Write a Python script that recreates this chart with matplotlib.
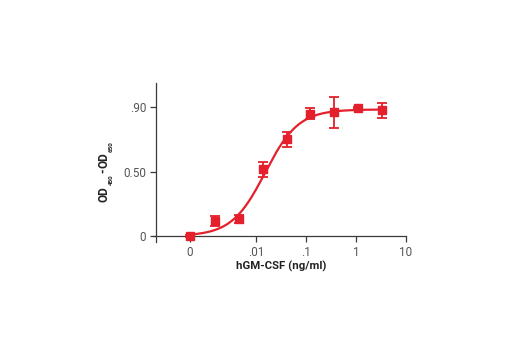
import numpy as np
import matplotlib
matplotlib.use("Agg")
import matplotlib.pyplot as plt

# ---- data ----
conc = [0.0, 0.00152, 0.00457, 0.0137, 0.0412, 0.123, 0.370, 1.11, 3.33]   # ng/ml
od = [0.0, 0.105, 0.119, 0.465, 0.675, 0.856, 0.865, 0.895, 0.879]
err = [0.006, 0.035, 0.030, 0.050, 0.054, 0.038, 0.110, 0.008, 0.052]

# 4PL fit parameters of the drawn curve
fit_bottom = 0.0
fit_top = 0.885
fit_ec50 = 0.0152
fit_hill = 1.3

x_ticks = [0.00048, 0.01, 0.1, 1, 10]
x_ticklabels = ["0", ".01", ".1", "1", "10"]
y_ticks = [0.0, 0.45, 0.90]
y_ticklabels = ["0", "0.50", ".90"]
zero_display = 0.00048   # where the 0 dose is drawn on the log axis

plt.rcParams["font.family"] = ["Roboto", "DejaVu Sans"]

red = "#e3202b"
axcol = "#3a3a3a"
W, H = 520, 350

fig = plt.figure(figsize=(5.2, 3.5), dpi=100)
ax = fig.add_axes([153 / W, 1 - 241.7 / H, 253 / W, (241.7 - 83) / H])

xs = np.array([zero_display if c == 0 else c for c in conc])
xfit = np.logspace(np.log10(zero_display), np.log10(max(conc)), 300)
yfit = fit_bottom + (fit_top - fit_bottom) / (1 + (fit_ec50 / xfit) ** fit_hill)
ax.plot(xfit, yfit, color=red, lw=1.6, zorder=2)
ax.errorbar(xs, od, yerr=err, fmt="s", color=red, ms=5.8, elinewidth=1.3,
            capsize=3.5, capthick=1.3, zorder=3)

ax.set_xscale("log")
ax.set_xlim(10 ** -4.06, 10)
ax.set_ylim(-0.04, 1.07)
ax.set_xticks(x_ticks)
ax.set_xticklabels(x_ticklabels)
ax.minorticks_off()
ax.set_yticks(y_ticks)
ax.set_yticklabels(y_ticklabels)

for s in ["top", "right"]:
    ax.spines[s].set_visible(False)
ax.spines["bottom"].set_position(("data", 0))
ax.spines["left"].set_position(("data", 1e-4))
for s in ["left", "bottom"]:
    ax.spines[s].set_color(axcol)
    ax.spines[s].set_linewidth(0.9)
ax.tick_params(axis="both", direction="out", length=4, width=0.9, color=axcol,
               labelsize=8.5, labelcolor="#555555", pad=3)

# x label
fig.text(281 / W, 1 - 266 / H, "hGM-CSF (ng/ml)", fontsize=8.2, fontweight="bold",
         color="#222222", ha="center", va="center")

# y label built from pieces (small subscripts)
lab = dict(rotation=90, fontweight="bold", color="#222222", ha="center", va="center")
fig.text(104 / W, 1 - 194 / H, "OD", fontsize=8.5, **lab)
fig.text(111 / W, 1 - 179.5 / H, "450", fontsize=4.5, **lab)
fig.text(104 / W, 1 - 171 / H, "-", fontsize=8.5, **lab)
fig.text(104 / W, 1 - 160.5 / H, "OD", fontsize=8.5, **lab)
fig.text(111 / W, 1 - 146.5 / H, "650", fontsize=4.5, **lab)

fig.savefig("out.png", dpi=100)
